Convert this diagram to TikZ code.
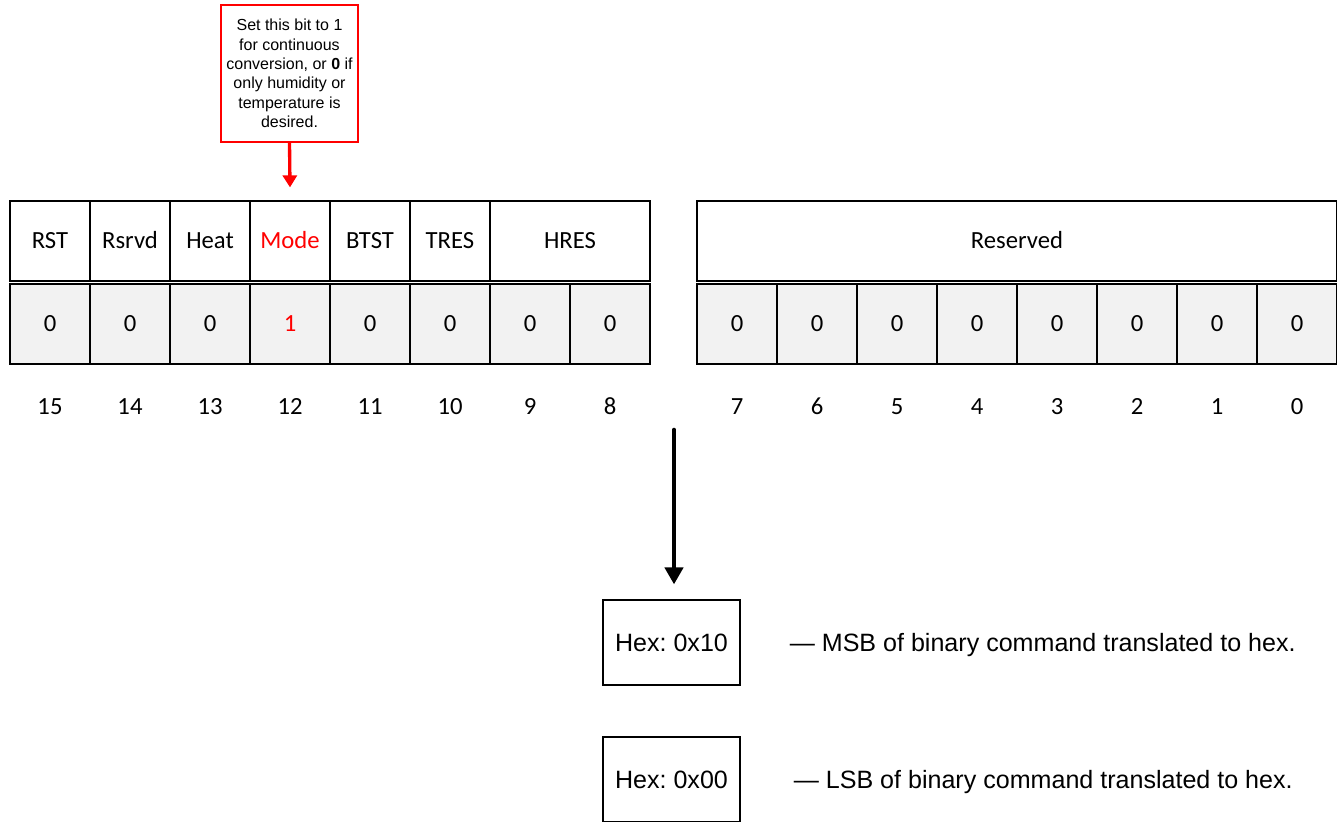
\documentclass[tikz,border=0pt]{standalone}
\usepackage{fontspec}
\setmainfont{Carlito}
\newfontfamily\arialfont{Liberation Sans}
\usetikzlibrary{arrows.meta,positioning}
\definecolor{cellgray}{HTML}{F2F2F2}
\definecolor{notered}{HTML}{FF0000}
\frenchspacing

\begin{document}
\begin{tikzpicture}[x=0.75pt,y=-0.75pt,
  field/.style={draw, line width=0.9pt, minimum width=60pt, minimum height=60pt, inner sep=0pt, text height=11.9pt, text depth=0pt, font=\fontsize{18.5}{22}\selectfont},
  bitval/.style={field, fill=cellgray},
  bitnum/.style={inner sep=0pt, text height=11.9pt, text depth=0pt, font=\fontsize{18.5}{22}\selectfont},
  hexbox/.style={draw, line width=0.9pt, minimum width=102.75pt, minimum height=63.75pt, inner sep=0pt, text height=13.5pt, text depth=0pt, font=\arialfont\fontsize{18.8}{22}\selectfont},
  desc/.style={anchor=west, inner sep=0pt, text height=13.5pt, text depth=0pt, font=\arialfont\fontsize{18.8}{22}\selectfont}]
\useasboundingbox (0,0) rectangle (1337,821);
\clip (0,0) rectangle (1337,821);

% register fields, high byte
\node (rst) [field] at (50,241) {RST};
\node (rsrvd) [field] at (130,241) {Rsrvd};
\node (heat) [field] at (210,241) {Heat};
\node (mode) [field, text=notered] at (290,241) {Mode};
\node (btst) [field] at (370,241) {BTST};
\node (tres) [field] at (450,241) {TRES};
\node (hres) [field, minimum width=120pt] at (570,241) {HRES};
% low byte
\node (reserved) [field, minimum width=480pt] at (1017,241) {Reserved};

% bit values and bit numbers
\foreach \i/\v/\c in {15/0/black,14/0/black,13/0/black,12/1/notered,11/0/black,10/0/black,9/0/black,8/0/black} {
  \pgfmathsetmacro{\xpos}{50+80*(15-\i)}
  \node (b\i) [bitval, text=\c] at (\xpos,324) {\v};
  \node (n\i) [bitnum] at (\xpos,407) {\i};
}
\foreach \i in {7,...,0} {
  \pgfmathsetmacro{\xpos}{737+80*(7-\i)}
  \node (b\i) [bitval] at (\xpos,324) {0};
  \node (n\i) [bitnum] at (\xpos,407) {\i};
}

% callout for the mode bit
\node (note) [draw=notered, line width=1.1pt, minimum width=102.75pt, minimum height=102.75pt, inner sep=0pt, align=center, font=\arialfont\fontsize{12}{14.6}\selectfont] at (289.5,73.5) {Set this bit to 1\\for continuous\\conversion, or \textbf{0} if\\only humidity or\\temperature is\\desired.};
\draw [notered, line width=2.5pt, -{Triangle[width=10.5pt,length=9pt]}] (note.south) -- ([yshift=9.75pt]mode.north);

% hex result
\node (msb) [hexbox] at (671.5,642.5) {Hex: 0x10};
\node (lsb) [hexbox] at (671.5,779.5) {Hex: 0x00};
\node (msbtxt) [desc, right=36.75pt of msb] {— MSB of binary command translated to hex.};
\node (lsbtxt) [desc, right=39.75pt of lsb] {— LSB of binary command translated to hex.};

\coordinate (split) at (674,430);
\draw [line width=3.5pt, line cap=round, shorten >=11.25pt, -{Triangle[width=13.5pt,length=12.75pt]}] (split) -- (split |- msb.north);
\end{tikzpicture}
\end{document}
